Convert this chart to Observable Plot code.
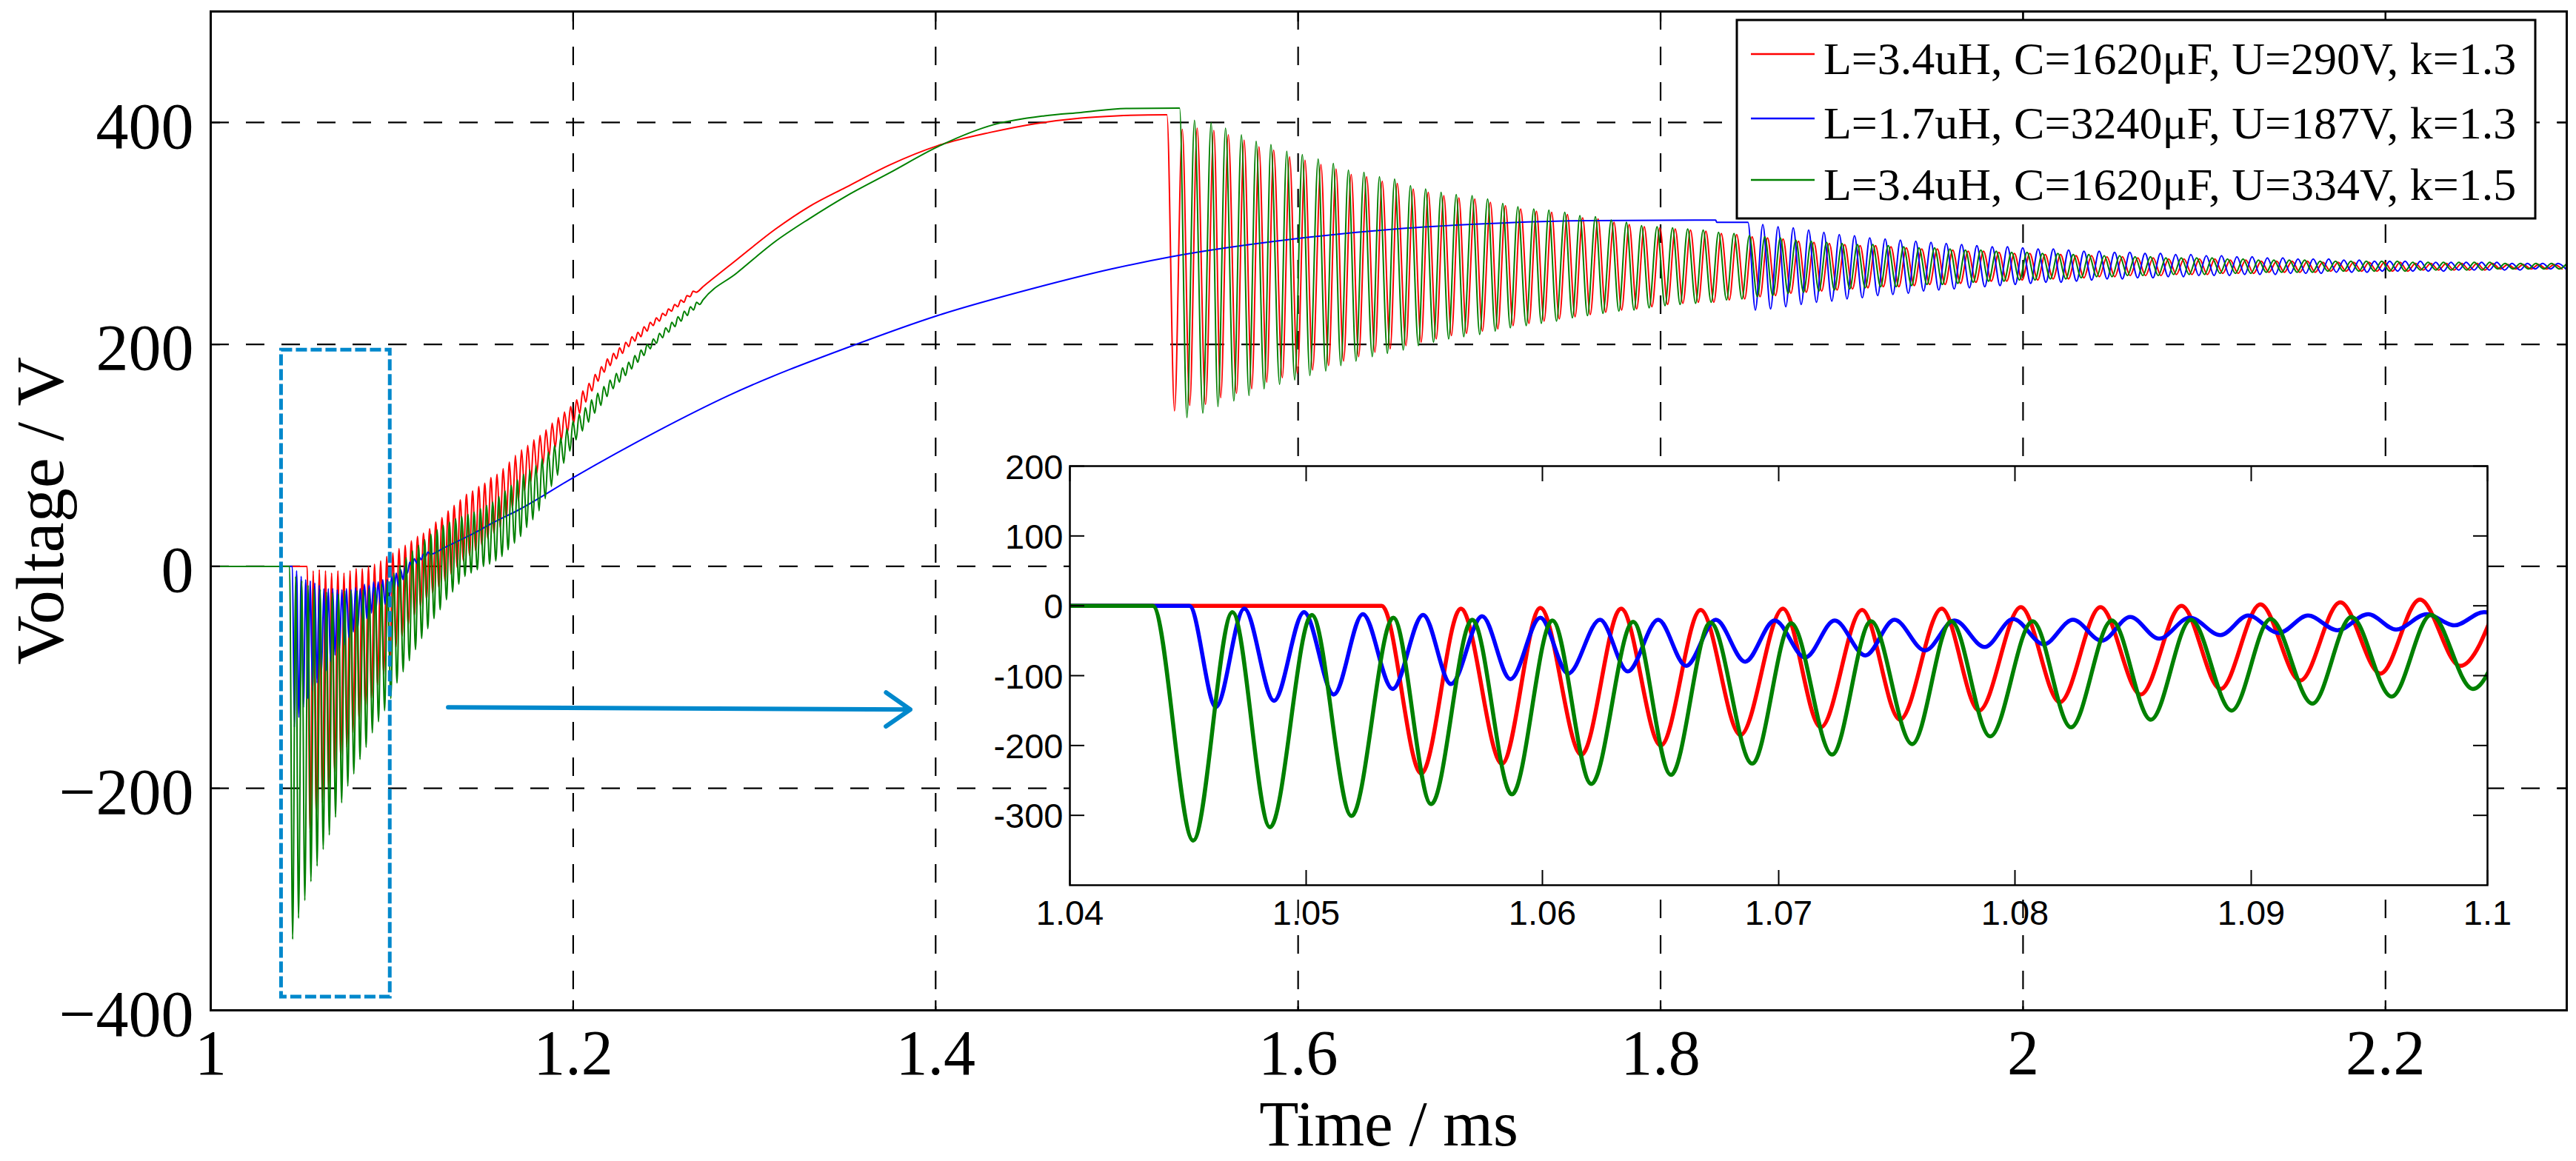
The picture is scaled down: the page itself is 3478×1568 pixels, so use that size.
<!DOCTYPE html>
<html><head><meta charset="utf-8">
<script src="https://cdn.jsdelivr.net/npm/d3@7"></script>
<script src="https://cdn.jsdelivr.net/npm/@observablehq/plot@0.6"></script>
<style>
html,body{margin:0;padding:0;background:#fff;}
#wrap{position:relative;width:3478px;height:1568px;overflow:hidden;background:#fff;}
#wrap > *{position:absolute;}
</style></head><body><div id="wrap"></div>
<script>
// ---------- labels / ticks ----------
const seriesNames = ["L=3.4uH, C=1620\u03bcF, U=290V, k=1.3", "L=1.7uH, C=3240\u03bcF, U=187V, k=1.3", "L=3.4uH, C=1620\u03bcF, U=334V, k=1.5"];
const xLabel = "Time / ms";
const yLabel = "Voltage / V";
const mainXTicks = [1, 1.2, 1.4, 1.6, 1.8, 2, 2.2];
const mainYTicks = [-400, -200, 0, 200, 400];
const insetXTicks = [1.04, 1.05, 1.06, 1.07, 1.08, 1.09, 1.1];
const insetYTicks = [-300, -200, -100, 0, 100, 200];
const zoomWindow = [{t0: 1.039, t1: 1.099, v0: -388, v1: 195}];
const pointer = [{t0: 1.131, v0: -127, t1: 1.386, v1: -129}];

// ---------- red: L=3.4uH, U=290V ----------
const redBaseT = [1.0,1.0532,1.05487,1.05655,1.05829,1.05991,1.06165,1.06333,1.06501,1.06670,1.06838,1.07018,1.07178,1.07353,1.07513,1.07690,1.07848,1.08025,1.08190,1.08362,1.08532,1.08705,1.08870,1.09039,1.09207,1.09377,1.09547,1.09714,1.09884];
const redBaseV = [0,0,-240,-4,-226,-3,-213,-4,-200,-6,-185,-4,-174,-6,-163,-4,-150,-2,-138,-2,-127,0,-119,2,-107,5,-97,9,-86];
const redRipplePeakT = [1.1005,1.1039,1.1073,1.1107,1.1141,1.1174,1.1208,1.1242,1.1276,1.1310,1.1343,1.1377,1.1411,1.1445,1.1479,1.1512,1.1546,1.1580,1.1614,1.1648,1.1681,1.1715,1.1749,1.1783,1.1817,1.1850,1.1884,1.1918,1.1952,1.1986,1.2019,1.2053,1.2087,1.2121,1.2155,1.2188,1.2222,1.2256,1.2290,1.2324,1.2357,1.2391,1.2425,1.2459,1.2493,1.2526,1.2560,1.2594,1.2628,1.2662];
const redRipplePeakV = [12,16,19,23,27,30,34,40,44,50,55,60,65,68,72,75,80,83,88,94,100,105,109,114,118,123,129,134,139,144,150,158,165,173,180,187,192,197,202,207,211,216,220,224,228,232,236,240,244,248];
const redRippleTroughT = [1.1022,1.1056,1.1090,1.1124,1.1158,1.1191,1.1225,1.1259,1.1293,1.1327,1.1360,1.1394,1.1428,1.1462,1.1496,1.1529,1.1563,1.1597,1.1631,1.1665,1.1698,1.1732,1.1766,1.1800,1.1834,1.1867,1.1901,1.1935,1.1969,1.2003,1.2036,1.2070,1.2104,1.2138,1.2172,1.2205,1.2239,1.2273,1.2307,1.2341,1.2374,1.2408,1.2442,1.2476,1.2510,1.2543,1.2577,1.2611,1.2645,1.2679];
const redRippleTroughV = [-73,-63,-53,-44,-36,-30,-24,-19,-13,-7,-1,5,10,14,19,25,30,35,43,51,59,68,76,84,92,99,107,114,121,129,138,148,158,167,175,181,187,192,198,203,207,212,217,221,226,230,234,238,243,247];
const redRiseT = [1.2716,1.29,1.3117,1.33,1.351,1.375,1.401,1.43,1.4552,1.48,1.50,1.5276];
const redRiseV = [252,276,304,324,342,362,379,391,399,404,406,407];
const redRingTroughT = [1.5318,1.5402,1.5489,1.5573,1.5660,1.5744,1.5827,1.5913,1.5996,1.6080,1.6168,1.6251,1.6334,1.6424,1.6508,1.6595,1.6679,1.6762,1.6846,1.6929,1.7017,1.7102,1.7186,1.7274,1.7357,1.7441,1.7528,1.7612,1.7697,1.7785,1.7868,1.7952,1.8039,1.8123,1.8208,1.8294,1.8379,1.8464,1.8549,1.8634,1.8719,1.8804,1.8889,1.8974,1.9059,1.9144,1.9229,1.9315,1.9400,1.9485,1.9570,1.9655,1.9740,1.9825,1.9910,1.9995,2.0081,2.0166,2.0251,2.0336,2.0421,2.0506,2.0591,2.0676,2.0761,2.0846,2.0932,2.1017,2.1102,2.1187,2.1272,2.1357,2.1442,2.1527,2.1612,2.1697,2.1783,2.1868,2.1953,2.2038,2.2123,2.2208,2.2293,2.2378,2.2463,2.2548,2.2634,2.2719,2.2804,2.2889,2.2974];
const redRingTroughV = [140,145,146,152,156,160,166,170,174,177,181,185,189,193,196,199,202,205,208,210,212,214,217,219,221,223,225,227,229,231,232,234,236,237,238,238,240,241,243,244,246,247,248,249,250,251,252,252,253,254,254,255,256,257,257,258,258,259,259,260,261,261,262,262,262,263,263,263,264,264,264,265,265,265,265,266,266,266,266,266,266,267,267,267,267,267,268,268,268,268,268];
const redRingPeakT = [1.5361,1.5443,1.5535,1.5615,1.5702,1.5784,1.5865,1.5953,1.6038,1.6126,1.6209,1.6293,1.6378,1.6464,1.6547,1.6635,1.6718,1.6804,1.6887,1.6975,1.7061,1.7144,1.7228,1.7315,1.7399,1.7486,1.7570,1.7655,1.7743,1.7827,1.7910,1.7996,1.8081,1.8165,1.8250,1.8335,1.8420,1.8505,1.8590,1.8676,1.8761,1.8846,1.8931,1.9016,1.9101,1.9186,1.9271,1.9356,1.9441,1.9527,1.9612,1.9697,1.9782,1.9867,1.9952,2.0037,2.0122,2.0207,2.0292,2.0378,2.0463,2.0548,2.0633,2.0718,2.0803,2.0888,2.0973,2.1058,2.1143,2.1229,2.1314,2.1399,2.1484,2.1569,2.1654,2.1739,2.1824,2.1909,2.1994,2.2080,2.2165,2.2250,2.2335,2.2420,2.2505,2.2590,2.2675,2.2760,2.2845,2.2931];
const redRingPeakV = [394,395,393,389,384,378,375,369,366,362,358,353,351,347,345,340,337,334,332,331,328,325,322,320,319,317,314,313,310,308,306,305,304,303,302,300,299,297,296,295,293,292,291,290,289,289,288,287,286,286,285,284,284,283,282,282,281,281,280,280,279,279,278,278,277,277,277,277,276,276,275,275,275,275,274,274,274,274,274,274,273,273,273,273,273,273,272,272,272,272];

// ---------- blue: L=1.7uH, U=187V ----------
const blueBaseT = [1.0,1.04506,1.04618,1.04738,1.04864,1.04991,1.05117,1.05240,1.05366,1.05495,1.05613,1.05745,1.05865,1.05991,1.06109,1.06244,1.06361,1.06490,1.06608,1.06734,1.06858,1.06983,1.07112,1.07237,1.07367,1.07490,1.07619,1.07744,1.07872,1.07992,1.08122,1.08245,1.08367,1.08488,1.08610,1.08740,1.08870,1.08987,1.09117,1.09240,1.09365,1.09495,1.09613,1.09743,1.09860,1.09985,1.10110,1.10235,1.10360,1.10485,1.10610,1.10735,1.10860,1.10985,1.11110,1.11235,1.11360,1.11485,1.11610,1.11735,1.11860,1.11985,1.12110];
const blueBaseV = [0,0,-145,-4,-136,-9,-127,-12,-119,-13,-112,-15,-105,-17,-97,-20,-94,-20,-86,-20,-80,-21,-74,-21,-71,-20,-64,-21,-59,-19,-55,-20,-50,-16,-47,-17,-42,-14,-39,-14,-35,-12,-34,-12,-28,-9,-24,-6,-18,-3,-12,0,-6,4,0,7,3,9,6,11,9,13,11];
const blueRiseT = [1.129,1.143,1.1565,1.17,1.2,1.2466,1.2858,1.356,1.401,1.455,1.497,1.53,1.5976,1.654,1.70,1.76,1.8304,1.8310,1.8482];
const blueRiseV = [17,28,40,51,80,122,154,200,226,251,268,279,295,304,308.5,311.5,312,310,310];
const blueRingTroughT = [1.8523,1.8607,1.8691,1.8776,1.8860,1.8945,1.9029,1.9113,1.9198,1.9282,1.9367,1.9451,1.9535,1.9620,1.9704,1.9789,1.9873,1.9957,2.0042,2.0126,2.0210,2.0295,2.0379,2.0464,2.0548,2.0632,2.0717,2.0801,2.0885,2.0970,2.1054,2.1139,2.1223,2.1307,2.1392,2.1476,2.1560,2.1645,2.1729,2.1814,2.1898,2.1982,2.2067,2.2151,2.2236,2.2320,2.2404,2.2489,2.2573,2.2657,2.2742,2.2826,2.2911,2.2995];
const blueRingTroughV = [231,232,234,236,238,239,241,242,244,245,246,248,249,250,251,252,253,254,255,256,256,257,258,259,259,260,260,261,261,262,262,262,263,263,263,264,264,264,265,265,265,266,266,266,266,266,267,267,267,267,267,268,268,268];
const blueRingPeakT = [1.8564,1.8648,1.8732,1.8817,1.8901,1.8986,1.9070,1.9154,1.9239,1.9323,1.9408,1.9492,1.9576,1.9661,1.9745,1.9830,1.9914,1.9998,2.0083,2.0167,2.0251,2.0336,2.0420,2.0505,2.0589,2.0673,2.0758,2.0842,2.0926,2.1011,2.1095,2.1180,2.1264,2.1348,2.1433,2.1517,2.1601,2.1686,2.1770,2.1855,2.1939,2.2023,2.2108,2.2192,2.2277,2.2361,2.2445,2.2530,2.2614,2.2698,2.2783,2.2867,2.2952];
const blueRingPeakV = [308,306,305,303,301,299,298,296,295,294,293,292,291,290,289,288,288,287,286,286,285,284,284,283,283,282,282,281,281,280,280,279,279,278,278,277,277,277,276,276,275,275,275,275,274,274,274,274,274,273,273,273,273];

// ---------- green: L=3.4uH, U=334V ----------
const greenBaseT = [1.0,1.04351,1.04522,1.04688,1.04847,1.05024,1.05192,1.05369,1.05529,1.05703,1.05871,1.06042,1.06207,1.06384,1.06544,1.06711,1.06888,1.07053,1.07226,1.07391,1.07565,1.07730,1.07895,1.08075,1.08237,1.08410,1.08575,1.08745,1.08917,1.09082,1.09259,1.09424,1.09594,1.09761,1.09938];
const greenBaseV = [0,0,-336,-9,-317,-13,-301,-17,-284,-20,-270,-21,-255,-23,-242,-24,-226,-25,-213,-22,-198,-22,-187,-22,-174,-21,-163,-20,-150,-19,-140,-16,-130,-13,-119];
const greenRipplePeakT = [1.1010,1.1044,1.1078,1.1113,1.1147,1.1181,1.1215,1.1249,1.1283,1.1317,1.1351,1.1385,1.1419,1.1453,1.1488,1.1522,1.1556,1.1590,1.1624,1.1658,1.1692,1.1726,1.1760,1.1794,1.1828,1.1863,1.1897,1.1931,1.1965,1.1999,1.2033,1.2067,1.2101,1.2135,1.2169,1.2203,1.2238,1.2272,1.2306,1.2340,1.2374,1.2408,1.2442,1.2476,1.2510,1.2544,1.2578,1.2613,1.2647,1.2681];
const greenRipplePeakV = [-6,1,8,14,19,24,29,33,37,40,43,45,47,49,52,55,58,63,68,73,78,83,87,91,97,103,109,116,124,131,137,143,150,156,162,168,174,179,184,190,195,200,205,210,215,220,225,230,234,238];
const greenRippleTroughT = [1.1028,1.1062,1.1096,1.1130,1.1164,1.1198,1.1232,1.1266,1.1301,1.1335,1.1369,1.1403,1.1437,1.1471,1.1505,1.1539,1.1573,1.1607,1.1641,1.1676,1.1710,1.1744,1.1778,1.1812,1.1846,1.1880,1.1914,1.1948,1.1982,1.2016,1.2051,1.2085,1.2119,1.2153,1.2187,1.2221,1.2255,1.2289,1.2323,1.2357,1.2391,1.2426,1.2460,1.2494,1.2528,1.2562,1.2596,1.2630,1.2664,1.2698];
const greenRippleTroughV = [-105,-95,-85,-75,-65,-56,-47,-39,-30,-23,-16,-9,-6,-3,0,2,5,9,15,21,27,35,42,50,61,72,82,93,104,114,122,130,138,145,153,160,166,172,178,184,190,196,201,206,211,216,221,226,231,236];
const greenRiseT = [1.2716,1.29,1.3117,1.33,1.351,1.375,1.401,1.432,1.46,1.48,1.505,1.5346];
const greenRiseV = [240,264,293,313,334,355,378,398,406,409,412.6,413];
const greenRingTroughT = [1.53866,1.54742,1.55577,1.56454,1.57289,1.58123,1.58979,1.59814,1.60648,1.61525,1.62359,1.63194,1.64091,1.64926,1.65803,1.66637,1.67472,1.68307,1.69141,1.70018,1.70874,1.71709,1.72585,1.73420,1.74255,1.75131,1.75966,1.76822,1.77698,1.78533,1.79367,1.80244,1.81079,1.81934,1.8279,1.8364,1.8449,1.8534,1.8619,1.8704,1.8789,1.8874,1.8959,1.9044,1.9129,1.9214,1.9300,1.9385,1.9470,1.9555,1.9640,1.9725,1.9810,1.9895,1.9980,2.0066,2.0151,2.0236,2.0321,2.0406,2.0491,2.0576,2.0661,2.0746,2.0831,2.0917,2.1002,2.1087,2.1172,2.1257,2.1342,2.1427,2.1512,2.1597,2.1682,2.1768,2.1853,2.1938,2.2023,2.2108,2.2193,2.2278,2.2363,2.2448,2.2533,2.2619,2.2704,2.2789,2.2874,2.2959];
const greenRingTroughV = [134,138,144,149,154,160,164,168,172,176,181,185,189,192,195,199,202,205,207,209,212,215,217,219,221,224,226,228,230,231,233,235,236,237,238,240,241,243,244,246,247,248,249,250,251,252,252,253,254,254,255,256,257,257,258,258,259,259,260,261,261,262,262,262,263,263,263,264,264,264,265,265,265,265,266,266,266,266,266,266,267,267,267,267,267,268,268,268,268,268];
const greenRingPeakT = [1.54283,1.55202,1.55995,1.56871,1.57685,1.58499,1.59375,1.60231,1.61107,1.61942,1.62777,1.63632,1.64488,1.65323,1.66199,1.67034,1.67889,1.68724,1.69601,1.70456,1.71291,1.72126,1.73002,1.73837,1.74713,1.75548,1.76404,1.77280,1.78115,1.78950,1.79805,1.80661,1.81495,1.82351,1.8320,1.8405,1.8490,1.8575,1.8661,1.8746,1.8831,1.8916,1.9001,1.9086,1.9171,1.9256,1.9341,1.9426,1.9512,1.9597,1.9682,1.9767,1.9852,1.9937,2.0022,2.0107,2.0192,2.0277,2.0363,2.0448,2.0533,2.0618,2.0703,2.0788,2.0873,2.0958,2.1043,2.1128,2.1214,2.1299,2.1384,2.1469,2.1554,2.1639,2.1724,2.1809,2.1894,2.1979,2.2065,2.2150,2.2235,2.2320,2.2405,2.2490,2.2575,2.2660,2.2745,2.2830,2.2916,2.3001];
const greenRingPeakV = [402,400,395,389,383,380,374,371,367,363,357,355,351,349,343,340,337,335,334,331,327,324,322,321,319,316,315,312,310,307,306,305,304,303,301,300,298,297,296,294,293,292,291,290,290,289,288,287,287,286,285,285,284,283,283,282,282,281,281,280,280,279,279,278,278,278,278,277,277,276,276,276,276,275,275,275,275,275,275,274,274,274,274,274,274,273,273,273,273,273];

// ---------- styles ----------
const lineColors = ["#ff0000", "#0000ff", "#008000"];
const accent = "#0088cc";
const serif = "'Liberation Serif', 'Times New Roman', serif";
const sans = "'Liberation Sans', Arial, sans-serif";

function zip(T, V) {
  const n = Math.min(T.length, V.length), out = [];
  for (let i = 0; i < n; i++) out.push({t: T[i], v: V[i]});
  return out;
}
function series(name, ...parts) {
  return parts.flat().sort((a, b) => a.t - b.t).map(d => ({...d, name}));
}
const red = series(seriesNames[0], zip(redBaseT, redBaseV), zip(redRipplePeakT, redRipplePeakV), zip(redRippleTroughT, redRippleTroughV), zip(redRiseT, redRiseV), zip(redRingTroughT, redRingTroughV), zip(redRingPeakT, redRingPeakV));
const blue = series(seriesNames[1], zip(blueBaseT, blueBaseV), zip(blueRiseT, blueRiseV), zip(blueRingTroughT, blueRingTroughV), zip(blueRingPeakT, blueRingPeakV));
const green = series(seriesNames[2], zip(greenBaseT, greenBaseV), zip(greenRipplePeakT, greenRipplePeakV), zip(greenRippleTroughT, greenRippleTroughV), zip(greenRiseT, greenRiseV), zip(greenRingTroughT, greenRingTroughV), zip(greenRingPeakT, greenRingPeakV));
const allSeries = [red, blue, green];

const wrap = document.getElementById("wrap");
try {
  const grid = {stroke: "#000", strokeWidth: 2.2, strokeDasharray: "25,23"};
  const tk = {stroke: "#000", strokeWidth: 2.2, fill: "none", label: null};
  const main = Plot.plot({
    width: 3478, height: 1568,
    marginLeft: 284, marginRight: 13, marginTop: 15, marginBottom: 204,
    style: {background: "transparent", fontFamily: serif, overflow: "visible", color: "#000"},
    x: {domain: [1, 2.3], axis: null},
    y: {domain: [-400, 500], axis: null},
    marks: [
      Plot.ruleX(mainXTicks.filter(d => d > 1), grid),
      Plot.ruleY(mainYTicks.filter(d => d > -400), grid),
      ...allSeries.map((s, i) => Plot.line(s, {x: "t", y: "v", stroke: lineColors[i], strokeWidth: 2, curve: "monotone-x"})),
      Plot.rect(zoomWindow, {x1: "t0", x2: "t1", y1: "v0", y2: "v1", fill: "none", stroke: accent, strokeWidth: 5, strokeDasharray: "15,5"}),
      Plot.arrow(pointer, {x1: "t0", y1: "v0", x2: "t1", y2: "v1", stroke: accent, strokeWidth: 6, headLength: 10, headAngle: 70}),
      Plot.frame({stroke: "#000", strokeWidth: 3}),
      Plot.axisX(mainXTicks, {anchor: "bottom", tickSize: 0, tickPadding: 25, fontSize: 86, tickFormat: d => d3.format("~g")(d), label: null}),
      Plot.axisX(mainXTicks, {anchor: "bottom", tickSize: -13, ...tk}),
      Plot.axisX(mainXTicks, {anchor: "top", tickSize: -13, ...tk}),
      Plot.axisY(mainYTicks, {anchor: "left", tickSize: 0, tickPadding: 23, dy: 6, fontSize: 88, tickFormat: d3.format("d"), label: null}),
      Plot.axisY(mainYTicks, {anchor: "left", tickSize: -13, ...tk}),
      Plot.axisY(mainYTicks, {anchor: "right", tickSize: -13, ...tk}),
      Plot.text([xLabel], {frameAnchor: "bottom", dy: 182, textAnchor: "middle", lineAnchor: "bottom", fontSize: 87, fill: "#000"}),
      Plot.text([yLabel], {frameAnchor: "left", dx: -200, rotate: -90, textAnchor: "middle", lineAnchor: "bottom", fontSize: 92, fill: "#000"})
    ]
  });
  main.style.left = "0px"; main.style.top = "0px";
  wrap.appendChild(main);

  // ---------- inset ----------
  const itk = {stroke: "#000", strokeWidth: 2, fill: "none", label: null};
  const lo = 1.04, hi = 1.1;
  const inRange = s => s.filter((d, i) => (i + 1 >= s.length || s[i + 1].t >= lo) && (i === 0 || s[i - 1].t <= hi));
  const inset = Plot.plot({
    width: 2074, height: 686,
    marginLeft: 120, marginRight: 40, marginTop: 40, marginBottom: 80,
    style: {background: "transparent", fontFamily: sans, overflow: "visible", color: "#000"},
    x: {domain: [lo, hi], axis: null},
    y: {domain: [-400, 200], axis: null},
    marks: [
      Plot.frame({fill: "#fff", stroke: "none"}),
      ...allSeries.map((s, i) => Plot.line(inRange(s), {x: "t", y: "v", stroke: lineColors[i], strokeWidth: 5.5, curve: "monotone-x", clip: true})),
      Plot.frame({stroke: "#000", strokeWidth: 2.5}),
      Plot.axisX(insetXTicks, {anchor: "bottom", tickSize: 0, tickPadding: 20, fontSize: 47, tickFormat: d3.format(".2~f"), label: null}),
      Plot.axisX(insetXTicks, {anchor: "bottom", tickSize: -20, ...itk}),
      Plot.axisX(insetXTicks, {anchor: "top", tickSize: -20, ...itk}),
      Plot.axisY(insetYTicks, {anchor: "left", tickSize: 0, tickPadding: 9, dy: 2, fontSize: 47, tickFormat: d => String(d), label: null}),
      Plot.axisY(insetYTicks, {anchor: "left", tickSize: -20, ...itk}),
      Plot.axisY(insetYTicks, {anchor: "right", tickSize: -20, ...itk})
    ]
  });
  inset.style.left = "1324px"; inset.style.top = "589px";
  wrap.appendChild(inset);

  // ---------- legend ----------
  const lg = d3.create("svg").attr("width", 1084).attr("height", 274)
    .style("left", "2342px").style("top", "24px").style("position", "absolute");
  lg.append("rect").attr("x", 3).attr("y", 3).attr("width", 1078).attr("height", 268)
    .attr("fill", "#fff").attr("stroke", "#000").attr("stroke-width", 3);
  const rowBase = [76, 163, 246];
  seriesNames.forEach((name, i) => {
    lg.append("line").attr("x1", 22).attr("x2", 108).attr("y1", rowBase[i] - 27).attr("y2", rowBase[i] - 27)
      .attr("stroke", lineColors[i]).attr("stroke-width", 2.5);
    lg.append("text").attr("x", 120).attr("y", rowBase[i]).attr("font-family", serif)
      .attr("font-size", 62).attr("fill", "#000").text(name);
  });
  wrap.appendChild(lg.node());
} catch (e) {
  const pre = document.createElement("pre"); pre.textContent = e.stack || String(e); wrap.appendChild(pre);
}
</script></body></html>
